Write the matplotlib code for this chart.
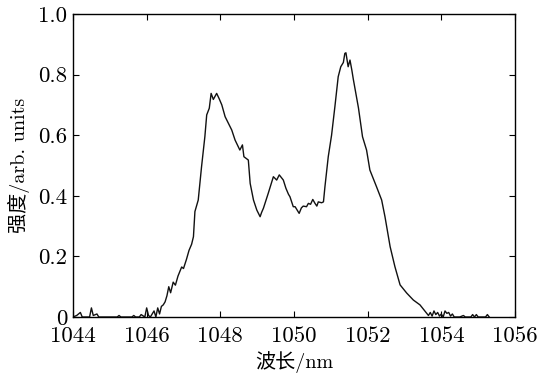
import matplotlib
matplotlib.use("Agg")
import matplotlib.pyplot as plt

wavelength = [1044.0, 1044.1, 1044.2, 1044.25, 1044.45, 1044.5, 1044.55, 1044.65, 1044.7,
              1045.2, 1045.25, 1045.3, 1045.6, 1045.65, 1045.7, 1045.8, 1045.85, 1045.95,
              1046.0, 1046.05, 1046.1, 1046.2, 1046.25, 1046.3, 1046.35, 1046.4, 1046.45,
              1046.5, 1046.55, 1046.6, 1046.65, 1046.72, 1046.78, 1046.85, 1046.95, 1047.0,
              1047.08, 1047.15, 1047.22, 1047.27, 1047.31, 1047.4, 1047.49, 1047.58, 1047.63,
              1047.7, 1047.75, 1047.81, 1047.9, 1047.97, 1048.04, 1048.13, 1048.22, 1048.31,
              1048.4, 1048.53, 1048.6, 1048.64, 1048.76, 1048.81, 1048.9, 1048.99, 1049.08,
              1049.12, 1049.17, 1049.3, 1049.44, 1049.53, 1049.6, 1049.67, 1049.71, 1049.78,
              1049.85, 1049.89, 1049.98, 1050.03, 1050.14, 1050.2, 1050.25, 1050.34, 1050.39,
              1050.45, 1050.51, 1050.57, 1050.62, 1050.66, 1050.75, 1050.8, 1050.84, 1050.93,
              1051.02, 1051.11, 1051.2, 1051.27, 1051.34, 1051.38, 1051.41, 1051.47, 1051.52,
              1051.57, 1051.61, 1051.75, 1051.86, 1051.97, 1052.06, 1052.24, 1052.38, 1052.47,
              1052.61, 1052.74, 1052.88, 1053.06, 1053.24, 1053.42, 1053.6, 1053.65, 1053.7,
              1053.75, 1053.8, 1053.85, 1053.9, 1053.95, 1054.0, 1054.05, 1054.1, 1054.15,
              1054.2, 1054.25, 1054.3, 1054.35, 1054.5, 1054.6, 1054.65, 1054.8, 1054.85,
              1054.9, 1054.95, 1055.0, 1055.2, 1055.25, 1055.3]
intensity = [0.0, 0.005, 0.015, 0.0, 0.0, 0.03, 0.005, 0.01, 0.0,
             0.0, 0.005, 0.0, 0.0, 0.005, 0.0, 0.0, 0.008, 0.0,
             0.03, 0.005, 0.0, 0.02, 0.0, 0.03, 0.01, 0.035, 0.04,
             0.05, 0.07, 0.1, 0.08, 0.115, 0.105, 0.135, 0.165, 0.16,
             0.19, 0.22, 0.24, 0.265, 0.348, 0.386, 0.496, 0.595, 0.667,
             0.689, 0.738, 0.718, 0.738, 0.72, 0.7, 0.661, 0.639, 0.617,
             0.584, 0.551, 0.568, 0.529, 0.518, 0.441, 0.386, 0.353, 0.331,
             0.345, 0.359, 0.408, 0.463, 0.452, 0.469, 0.458, 0.452, 0.425,
             0.405, 0.397, 0.364, 0.364, 0.342, 0.36, 0.366, 0.364, 0.375,
             0.372, 0.388, 0.375, 0.366, 0.38, 0.377, 0.38, 0.43, 0.529,
             0.6, 0.694, 0.793, 0.826, 0.84, 0.87, 0.872, 0.826, 0.848,
             0.815, 0.785, 0.69, 0.595, 0.551, 0.485, 0.43, 0.386, 0.331,
             0.232, 0.166, 0.106, 0.079, 0.056, 0.04, 0.013, 0.005, 0.015,
             0.003, 0.02, 0.008, 0.015, 0.003, 0.01, 0.0, 0.02, 0.012,
             0.015, 0.003, 0.01, 0.0, 0.0, 0.005, 0.0, 0.0, 0.008,
             0.0, 0.008, 0.0, 0.0, 0.008, 0.0]

xticks = [1044, 1046, 1048, 1050, 1052, 1054, 1056]
yticks = [0, 0.2, 0.4, 0.6, 0.8, 1.0]
ytick_labels = ["0", "0.2", "0.4", "0.6", "0.8", "1.0"]
xlabel = "波长/nm"
ylabel = "强度/arb. units"

plt.rcParams['font.family'] = ['cmr10', 'Noto Sans CJK SC', 'DejaVu Serif']
plt.rcParams['axes.formatter.use_mathtext'] = True

fig = plt.figure(figsize=(5.37, 3.77), dpi=100)
ax = fig.add_axes([73/537, 1-317/377, (515-73)/537, (317-14)/377])
ax.plot(wavelength, intensity, color='#111111', linewidth=1.0)
ax.set_xlim(1044, 1056)
ax.set_ylim(0, 1.0)
ax.set_xticks(xticks)
ax.set_xticklabels([str(t) for t in xticks])
ax.set_yticks(yticks)
ax.set_yticklabels(ytick_labels)
ax.tick_params(direction='in', top=True, right=True, length=4, width=0.8,
               labelsize=16.5)
ax.tick_params(axis='x', pad=6.5)
ax.tick_params(axis='y', pad=4)
for s in ax.spines.values():
    s.set_linewidth(1.0)
ax.set_xlabel(xlabel, fontsize=14.5, labelpad=4)
ax.set_ylabel(ylabel, fontsize=14.5, labelpad=6)
fig.savefig("out.png", dpi=100)
